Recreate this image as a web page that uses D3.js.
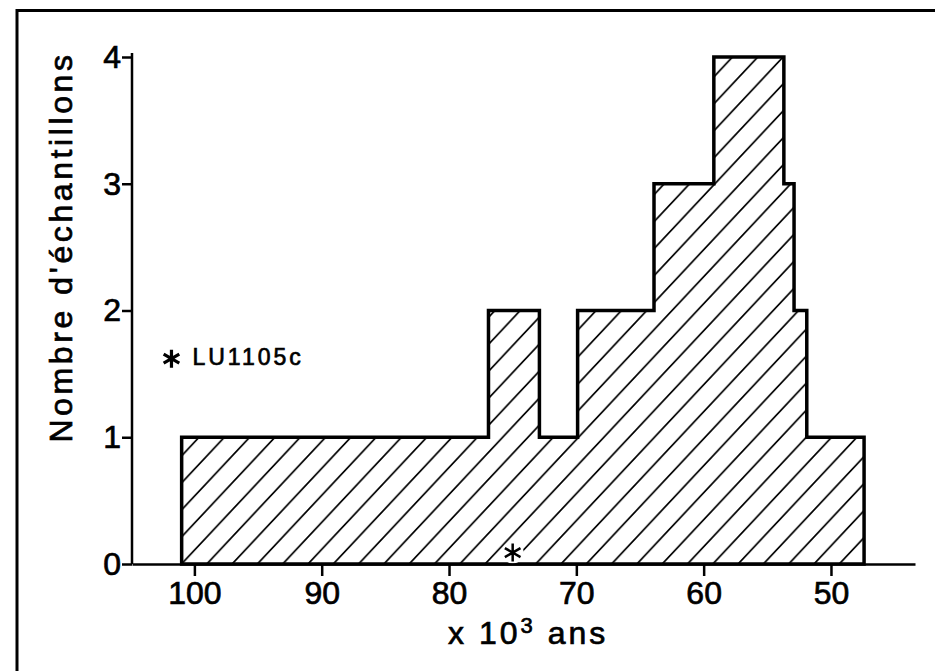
<!doctype html>
<html>
<head>
<meta charset="utf-8">
<title>Nombre d'échantillons</title>
<script src="https://d3js.org/d3.v7.min.js"></script>
<style>
  body { margin: 0; background: #fff; }
  svg { display: block; font-family: "Liberation Sans", Arial, sans-serif; }
  svg text { fill: #000; stroke: #000; stroke-width: 0.7px; }
  .axis path, .axis line { stroke: #000; stroke-width: 2.5px; }
</style>
</head>
<body>
<script>
// bin edges (x 10^3 ans) and sample counts per bin
var edges = [101, 76.9, 72.9, 69.9, 63.9, 59.2, 53.7, 52.9, 51.9, 47.4];
var counts = [1, 2, 1, 2, 3, 4, 3, 2, 1];

var xTicks = [100, 90, 80, 70, 60, 50];
var yTicks = [0, 1, 2, 3, 4];

// asterisk markers
var sample = { age: 75, n: 0.09 };
var legendMark = { age: 101.8, n: 1.62, label: "LU1105c" };

var w = 935, h = 671;

var svg = d3.select("body").append("svg")
    .attr("width", w)
    .attr("height", h);

// hatching
var pw = 25.3, ph = 27;
svg.append("defs").append("pattern")
    .attr("id", "hatch")
    .attr("patternUnits", "userSpaceOnUse")
    .attr("x", 181.5)
    .attr("y", 564)
    .attr("width", pw)
    .attr("height", ph)
  .append("path")
    .attr("d", "M0," + ph + "L" + pw + ",0" +
               "M" + (-pw / 2) + "," + (ph / 2) + "L" + (pw / 2) + "," + (-ph / 2) +
               "M" + (pw / 2) + "," + (ph * 1.5) + "L" + (pw * 1.5) + "," + (ph / 2))
    .attr("stroke", "#000")
    .attr("stroke-width", 1.7);

// frame (top and left edges only)
svg.append("path")
    .attr("d", "M17,671V10.5H935")
    .attr("fill", "none")
    .attr("stroke", "#000")
    .attr("stroke-width", 3);

var x = d3.scaleLinear().domain([104.9, 43.4]).range([132, 915]);
var y = d3.scaleLinear().domain([0, 4]).range([564, 57]);

// histogram
var steps = edges.map(function(e, i) {
    return { e: e, c: i < counts.length ? counts[i] : counts[counts.length - 1] };
});

var area = d3.area()
    .curve(d3.curveStepAfter)
    .x(function(d) { return x(d.e); })
    .y0(y(0))
    .y1(function(d) { return y(d.c); });

svg.append("path")
    .datum(steps)
    .attr("d", area)
    .attr("fill", "url(#hatch)")
    .attr("stroke", "#000")
    .attr("stroke-width", 3.5)
    .attr("stroke-linejoin", "miter");

// white gap in the hatching round the sample mark
svg.append("circle")
    .attr("cx", x(sample.age))
    .attr("cy", y(sample.n))
    .attr("r", 11)
    .attr("fill", "#fff");

// axes
var gx = svg.append("g")
    .attr("class", "axis")
    .attr("transform", "translate(0," + y(0) + ")")
    .call(d3.axisBottom(x).tickValues(xTicks).tickSize(12).tickSizeOuter(0).tickPadding(5));

var gy = svg.append("g")
    .attr("class", "axis")
    .attr("transform", "translate(" + x.range()[0] + ",0)")
    .call(d3.axisLeft(y).tickValues(yTicks).tickFormat(d3.format("d"))
        .tickSize(10).tickSizeOuter(0).tickPadding(1));
gy.select(".domain").attr("d", "M0," + y(0) + "V" + (y(4) - 4));

svg.selectAll(".axis").attr("font-family", null).attr("font-size", null);
svg.selectAll(".axis .tick text").style("font-size", "32px");

// axis titles
svg.append("text")
    .attr("transform", "translate(72,247) rotate(-90)")
    .attr("text-anchor", "middle")
    .style("font-size", "32px")
    .style("letter-spacing", "3.6px")
    .text("Nombre d'échantillons");

var xl = svg.append("text")
    .attr("x", 448)
    .attr("y", 644)
    .style("font-size", "32px")
    .style("letter-spacing", "3px");
xl.append("tspan").text("x 10");
xl.append("tspan").attr("dy", -11).style("font-size", "22px").text("3");
xl.append("tspan").attr("dy", 11).text(" ans");

// asterisks
var star = d3.symbol().type(d3.symbolAsterisk).size(230);

svg.append("path")
    .attr("transform", "translate(" + x(sample.age) + "," + y(sample.n) + ")")
    .attr("d", star())
    .attr("fill", "none")
    .attr("stroke", "#000")
    .attr("stroke-width", 2.5);

svg.append("path")
    .attr("transform", "translate(" + x(legendMark.age) + "," + y(legendMark.n) + ")")
    .attr("d", star())
    .attr("fill", "none")
    .attr("stroke", "#000")
    .attr("stroke-width", 3.2);

svg.append("text")
    .attr("x", x(legendMark.age) + 21)
    .attr("y", y(legendMark.n) + 6)
    .style("font-size", "23px")
    .style("letter-spacing", "3px")
    .text(legendMark.label);
</script>
</body>
</html>
